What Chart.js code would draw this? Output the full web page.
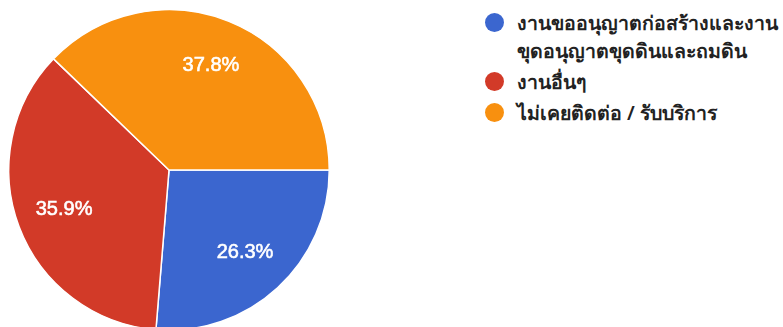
<!DOCTYPE html>
<html>
<head>
<meta charset="utf-8">
<script src="https://cdn.jsdelivr.net/npm/chart.js@4.4.0/dist/chart.umd.min.js"></script>
<style>
  html, body { margin: 0; padding: 0; background: #fff; overflow: hidden; }
  body { width: 783px; height: 327px; position: relative; }
  #wrap { position: absolute; left: 0; top: 0; width: 340px; height: 340px; }
  #legend { position: absolute; left: 485px; top: 9px; font-family: "Noto Sans", "DejaVu Sans", sans-serif;
            font-size: 19.5px; color: #222; font-weight: 600; }
  .item { display: flex; align-items: flex-start; margin-bottom: 3px; }
  .dot { width: 19px; height: 19px; border-radius: 50%; margin-top: 4px; margin-right: 13px; flex: none; }
  .txt { line-height: 28px; width: 290px; white-space: pre-line; }
</style>
</head>
<body>
<div id="wrap"><canvas id="pie" width="340" height="340"></canvas></div>
<div id="legend"></div>
<script>
const categories = [
  "งานขออนุญาตก่อสร้างและงาน\nขุดอนุญาตขุดดินและถมดิน",
  "งานอื่นๆ",
  "ไม่เคยติดต่อ / รับบริการ"
];
const shares = [26.3, 35.9, 37.8];
const sliceColors = ["#3b66cf", "#d23a28", "#f8900f"];

// percentage labels placed inside each slice
const sliceLabels = {
  id: 'sliceLabels',
  afterDatasetsDraw(chart) {
    const ctx = chart.ctx;
    const meta = chart.getDatasetMeta(0);
    ctx.save();
    ctx.fillStyle = '#ffffff';
    ctx.strokeStyle = '#ffffff';
    ctx.lineWidth = 0.6;
    ctx.font = '20px "Liberation Sans", Arial, sans-serif';
    ctx.textAlign = 'center';
    ctx.textBaseline = 'middle';
    meta.data.forEach((arc, i) => {
      const p = arc.getProps(['x', 'y', 'startAngle', 'endAngle', 'outerRadius'], true);
      const mid = (p.startAngle + p.endAngle) / 2;
      const r = p.outerRadius * 0.7;
      const t = shares[i].toFixed(1) + '%';
      const tx = p.x + Math.cos(mid) * r, ty = p.y + Math.sin(mid) * r;
      ctx.fillText(t, tx, ty);
      ctx.strokeText(t, tx, ty);
    });
    ctx.restore();
  }
};

new Chart(document.getElementById('pie'), {
  type: 'pie',
  data: {
    labels: categories,
    datasets: [{
      data: shares,
      backgroundColor: sliceColors,
      borderColor: '#ffffff',
      borderWidth: 1.5
    }]
  },
  options: {
    responsive: false,
    animation: false,
    rotation: 90,
    layout: { padding: { left: 8, right: 10, top: 9, bottom: 9 } },
    plugins: { legend: { display: false }, tooltip: { enabled: false } }
  },
  plugins: [sliceLabels]
});

// legend
const legend = document.getElementById('legend');
categories.forEach((c, i) => {
  const item = document.createElement('div');
  item.className = 'item';
  const dot = document.createElement('span');
  dot.className = 'dot';
  dot.style.background = sliceColors[i];
  const txt = document.createElement('span');
  txt.className = 'txt';
  txt.textContent = c;
  item.appendChild(dot);
  item.appendChild(txt);
  legend.appendChild(item);
});
</script>
</body>
</html>
